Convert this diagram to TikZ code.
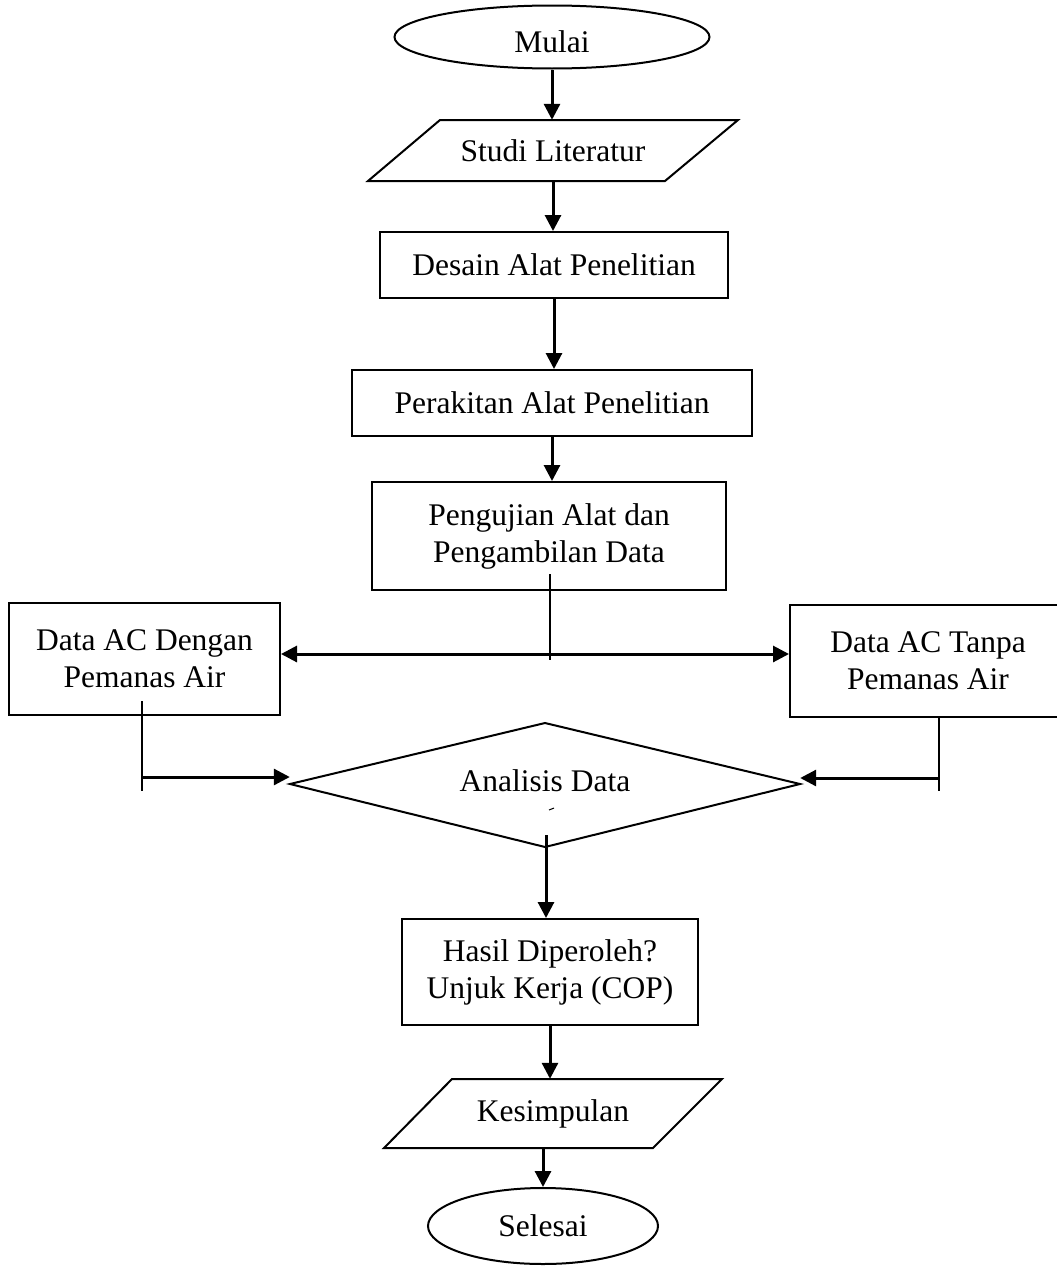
\documentclass[tikz,border=0pt]{standalone}
\usepackage{fontspec}
\setmainfont{Liberation Serif}
\usetikzlibrary{shapes.geometric,arrows.meta}
\begin{document}
\begin{tikzpicture}[x=1pt,y=-1pt,
  txt/.style={font=\fontsize{31.5}{37}\selectfont, align=center, inner sep=0pt},
  box/.style={txt, draw, line width=2pt, rectangle},
  oval/.style={txt, draw, line width=2pt, ellipse},
  shp/.style={line width=2pt, line join=miter},
  arr/.style={line width=3pt, -{Triangle[length=16pt,width=16pt]}},
  dbl/.style={line width=3pt, {Triangle[length=16pt,width=16pt]}-{Triangle[length=16pt,width=16pt]}},
  thinline/.style={line width=1.6pt}]
\useasboundingbox (0,0) rectangle (1057,1266);
% nodes
\node[oval, minimum width=315pt, minimum height=63pt, text height=31.5pt, text depth=0pt] (mulai) at (552,37) {Mulai};
\node[txt, minimum width=298pt, minimum height=61pt] (studi) at (553,150.5) {Studi Literatur};
\draw[shp] (440,120) -- (738,120) -- (665,181) -- (368,181) -- cycle;
\node[box, minimum width=348pt, minimum height=66pt] (desain) at (554,265) {Desain Alat Penelitian};
\node[box, minimum width=400pt, minimum height=66pt] (perakitan) at (552,403) {Perakitan Alat Penelitian};
\node[box, minimum width=354pt, minimum height=108pt] (pengujian) at (549,536) {Pengujian Alat dan\\Pengambilan Data};
\node[box, minimum width=271pt, minimum height=112pt] (dengan) at (144.5,659) {Data AC Dengan\\Pemanas Air};
\node[box, minimum width=276pt, minimum height=112pt] (tanpa) at (928,661) {Data AC Tanpa\\Pemanas Air};
\draw[shp] (290,784) -- (545,723) -- (800,784) -- (545,847) -- cycle;
\node[txt, minimum width=510pt, minimum height=124pt] (analisis) at (545,784) {\raisebox{6pt}{Analisis Data}};
\node[box, minimum width=296pt, minimum height=106pt] (hasil) at (550,972) {Hasil Diperoleh?\\Unjuk Kerja (COP)};
\node[txt, minimum width=270pt, minimum height=69pt] (kesimpulan) at (553,1113.5) {Kesimpulan};
\draw[shp] (452,1079) -- (722,1079) -- (653,1148) -- (384,1148) -- cycle;
\node[oval, minimum width=230pt, minimum height=76pt] (selesai) at (543,1226) {Selesai};
% coordinates
\coordinate (pjtop) at (550,574);
\coordinate (pjbot) at (550,660);
\coordinate (junc) at (550,654);
\coordinate (lt) at (142,701);
\coordinate (lb) at (142,791);
\coordinate (la) at (142,777);
\coordinate (rt) at (939,717);
\coordinate (rb) at (939,791);
\coordinate (ra) at (939,778);
\coordinate (dtop) at (546,835);
% connectors
\draw[arr] (mulai.south) -- (mulai.south |- studi.north);
\draw[arr] (studi.south) -- (studi.south |- desain.north);
\draw[arr] (desain.south) -- (desain.south |- perakitan.north);
\draw[arr] (perakitan.south) -- (perakitan.south |- pengujian.north);
\draw[thinline] (pjtop) -- (pjbot);
\draw[dbl] (junc -| dengan.east) -- (junc -| tanpa.west);
\draw[thinline] (lt) -- (lb);
\draw[arr] (la) -- (la -| analisis.west);
\draw[thinline] (rt) -- (rb);
\draw[arr] (ra) -- (ra -| analisis.east);
\draw[arr] (dtop) -- (dtop |- hasil.north);
\draw[arr] (hasil.south) -- (hasil.south |- kesimpulan.north);
\draw[arr] (kesimpulan.south -| selesai.north) -- (selesai.north);
\draw[line width=1pt] (549,810) -- (554,808);
\end{tikzpicture}
\end{document}
